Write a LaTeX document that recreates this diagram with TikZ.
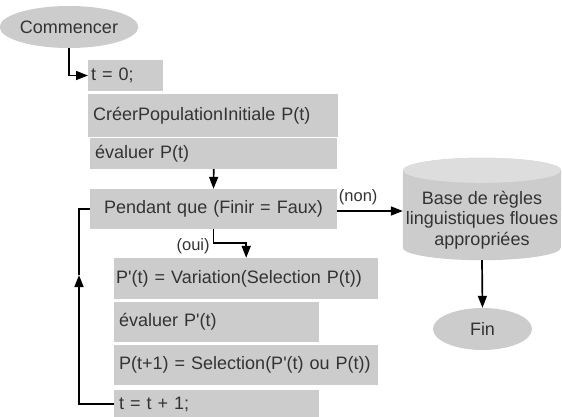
\documentclass[tikz,border=0pt]{standalone}
\usepackage{fontspec}
\setmainfont{Liberation Sans}
\usetikzlibrary{calc,arrows.meta,shapes.geometric}
\definecolor{boxgray}{HTML}{CCCCCC}
\definecolor{cyltop}{HTML}{DDDDDD}
\definecolor{txt}{HTML}{333333}
\tikzset{
  box/.style={fill=boxgray, text=txt, inner xsep=5pt, inner ysep=0pt, anchor=west, align=left,
    font=\fontsize{18}{21}\selectfont},
  oval/.style={ellipse, fill=boxgray, text=txt, inner sep=0pt, font=\fontsize{18}{21}\selectfont},
  lbl/.style={text=txt, inner sep=0pt, font=\fontsize{16.5}{19}\selectfont},
  conn/.style={line width=1.7pt, black},
  arr/.style={conn, -{Triangle[length=12pt,width=9pt]}},
}
\begin{document}
\begin{tikzpicture}[x=1pt,y=-1pt]
\useasboundingbox (0,0) rectangle (562,417);
\fill[white] (0,0) rectangle (562,417);

\node[oval, minimum width=122pt, minimum height=42pt] (start) at (69,27) {Commencer};

\node[box, inner xsep=3pt, text width=69pt, minimum height=31pt] (t0) at (88,75.5) {t = 0;};
\node[box, text width=240pt, minimum height=43pt] (creer) at (88,115.5) {CréerPopulationInitiale P(t)};
\node[box, text width=237pt, minimum height=31pt] (eval) at (90,153.5) {évaluer P(t)};
\node[box, anchor=center, align=center, inner xsep=0pt, text width=247pt, minimum height=40pt] (pendant) at (213.5,209) {Pendant que (Finir = Faux)};
\node[box, inner xsep=2pt, text width=260pt, minimum height=41pt] (pvar) at (114,278.5) {P\textquotesingle(t) = Variation(Selection P(t))};
\node[box, text width=195pt, minimum height=40pt] (evalp) at (114,322) {évaluer P\textquotesingle(t)};
\node[box, text width=254pt, minimum height=40pt] (pnext) at (114,365) {P(t+1) = Selection(P\textquotesingle(t) ou P(t))};
\node[box, text width=195pt, minimum height=28pt] (tinc) at (114,404) {t = t + 1;};

% cylinder
\node[inner sep=0pt, minimum width=158pt, minimum height=102pt] (base) at (482,209) {};
\fill[boxgray] ($(base.north west)+(0,12.5)$) -- ($(base.south west)+(0,-12.5)$)
  arc[start angle=180, end angle=360, x radius=79pt, y radius=12.5pt]
  -- ($(base.north east)+(0,12.5)$)
  arc[start angle=0, end angle=180, x radius=79pt, y radius=12.5pt] -- cycle;
\fill[cyltop] ($(base.north)+(0,12.5)$) ellipse[x radius=79pt, y radius=12.5pt];
\node[text=txt, align=center, inner sep=0pt, font=\fontsize{18}{20.5}\selectfont] (basetext) at ($(base.center)+(0,11)$) {Base de règles\\linguistiques floues\\appropriées};

\node[oval, minimum width=99pt, minimum height=42pt] (fin) at (482.5,329) {Fin};

% connectors
\draw[arr] (start.south) |- (t0.west);
\draw[arr] (eval.south) -- (pendant.north);
\draw[arr] (pendant.south) -- ++(0,14) node[lbl, anchor=east, xshift=-3pt, yshift=-3pt] {(oui)} -| (pvar.north);
\draw[arr] ($(pendant.east)+(0,2)$) -- ($(pendant.east -| base.west)+(0,2)$);
\node[lbl] (non) at ($(pendant.east)+(21,-12)$) {(non)};
\draw[arr] (base.south) -- (fin.north);
\coordinate (loopmid) at (79,275);
\draw[arr] (tinc.west) -| (loopmid);
\draw[conn] (loopmid) |- (pendant.west);
\end{tikzpicture}
\end{document}
